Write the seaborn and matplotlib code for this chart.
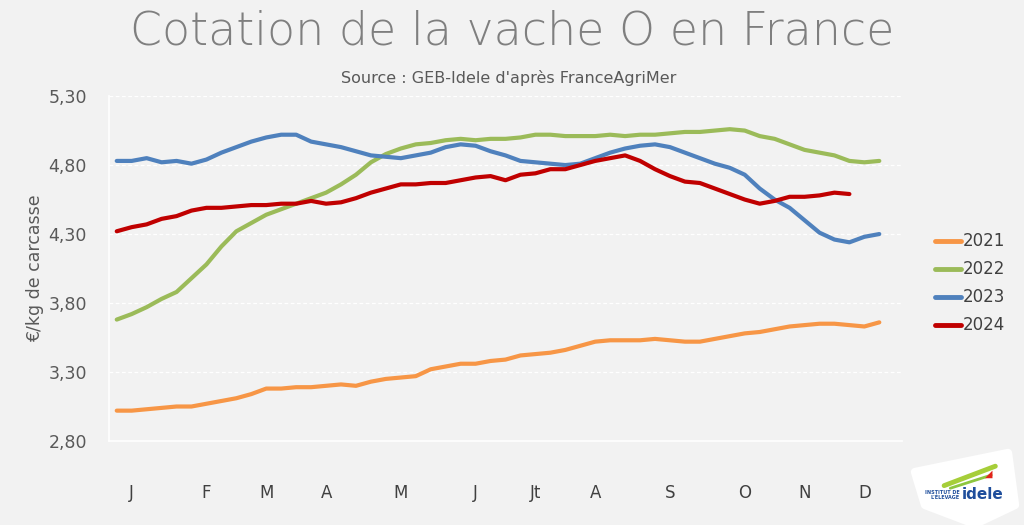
import numpy as np
import pandas as pd
import matplotlib.pyplot as plt
import seaborn as sns
from matplotlib.patches import Polygon
from matplotlib.ticker import FuncFormatter

# weekly prices, EUR/kg carcass
prix_2021 = [3.02, 3.02, 3.03, 3.04, 3.05, 3.05, 3.07, 3.09, 3.11, 3.14, 3.18, 3.18, 3.19,
             3.19, 3.20, 3.21, 3.20, 3.23, 3.25, 3.26, 3.27, 3.32, 3.34, 3.36, 3.36, 3.38,
             3.39, 3.42, 3.43, 3.44, 3.46, 3.49, 3.52, 3.53, 3.53, 3.53, 3.54, 3.53, 3.52,
             3.52, 3.54, 3.56, 3.58, 3.59, 3.61, 3.63, 3.64, 3.65, 3.65, 3.64, 3.63, 3.66]
prix_2022 = [3.68, 3.72, 3.77, 3.83, 3.88, 3.98, 4.08, 4.21, 4.32, 4.38, 4.44, 4.48, 4.52,
             4.56, 4.60, 4.66, 4.73, 4.82, 4.88, 4.92, 4.95, 4.96, 4.98, 4.99, 4.98, 4.99,
             4.99, 5.00, 5.02, 5.02, 5.01, 5.01, 5.01, 5.02, 5.01, 5.02, 5.02, 5.03, 5.04,
             5.04, 5.05, 5.06, 5.05, 5.01, 4.99, 4.95, 4.91, 4.89, 4.87, 4.83, 4.82, 4.83]
prix_2023 = [4.83, 4.83, 4.85, 4.82, 4.83, 4.81, 4.84, 4.89, 4.93, 4.97, 5.00, 5.02, 5.02,
             4.97, 4.95, 4.93, 4.90, 4.87, 4.86, 4.85, 4.87, 4.89, 4.93, 4.95, 4.94, 4.90,
             4.87, 4.83, 4.82, 4.81, 4.80, 4.81, 4.85, 4.89, 4.92, 4.94, 4.95, 4.93, 4.89,
             4.85, 4.81, 4.78, 4.73, 4.63, 4.55, 4.49, 4.40, 4.31, 4.26, 4.24, 4.28, 4.30]
prix_2024 = [4.32, 4.35, 4.37, 4.41, 4.43, 4.47, 4.49, 4.49, 4.50, 4.51, 4.51, 4.52, 4.52,
             4.54, 4.52, 4.53, 4.56, 4.60, 4.63, 4.66, 4.66, 4.67, 4.67, 4.69, 4.71, 4.72,
             4.69, 4.73, 4.74, 4.77, 4.77, 4.80, 4.83, 4.85, 4.87, 4.83, 4.77, 4.72, 4.68,
             4.67, 4.63, 4.59, 4.55, 4.52, 4.54, 4.57, 4.57, 4.58, 4.60, 4.59]

annees = ['2021', '2022', '2023', '2024']
couleurs = ['#f79646', '#9bbb59', '#4f81bd', '#c00000']
mois = ['J', 'F', 'M', 'A', 'M', 'J', 'Jt', 'A', 'S', 'O', 'N', 'D']
mois_sem = [1, 6, 10, 14, 19, 24, 28, 32, 37, 42, 46, 50]
yticks = [2.80, 3.30, 3.80, 4.30, 4.80, 5.30]
n_sem = 53

frames = []
for an, vals in zip(annees, [prix_2021, prix_2022, prix_2023, prix_2024]):
    frames.append(pd.DataFrame({'semaine': np.arange(len(vals)), 'prix': vals, 'annee': an}))
df = pd.concat(frames, ignore_index=True)

sns.set_style('white')
bg = '#f2f2f2'
fig = plt.figure(figsize=(10.24, 5.25), dpi=100, facecolor=bg)
ax = fig.add_axes([0.1067, 0.16, 0.7739, 0.657], facecolor=bg)

sns.lineplot(data=df, x='semaine', y='prix', hue='annee', palette=couleurs,
             linewidth=3, ax=ax, solid_capstyle='round')

ax.set_xlim(-0.5, n_sem - 0.5)
ax.set_ylim(2.80, 5.30)
ax.set_yticks(yticks)
ax.yaxis.set_major_formatter(FuncFormatter(lambda v, p: f'{v:.2f}'.replace('.', ',')))
ax.tick_params(axis='y', length=0, pad=16, labelsize=12.5, labelcolor='#595959')
ax.grid(axis='y', color='white', linestyle=(0, (3, 2)), linewidth=0.9)
ax.set_axisbelow(True)

ax.set_xticks(mois_sem)
ax.set_xticklabels(mois)
ax.set_xticks(np.arange(-0.5, n_sem, 1), minor=True)
ax.tick_params(axis='x', which='major', length=0, pad=31, labelsize=12, labelcolor='#404040')
ax.tick_params(axis='x', which='minor', length=6, width=1, color='white', direction='out')

for s in ['top', 'right']:
    ax.spines[s].set_visible(False)
for s in ['left', 'bottom']:
    ax.spines[s].set_color('white')
    ax.spines[s].set_linewidth(1.2)

ax.set_xlabel('')
ax.set_ylabel('€/kg de carcasse', fontsize=12.5, color='#595959', labelpad=3)

leg = ax.legend(loc='center left', bbox_to_anchor=(0.898, 0.46), bbox_transform=fig.transFigure,
                frameon=False, fontsize=12, handlelength=1.6, handletextpad=0.1,
                labelspacing=0.6, labelcolor='#404040')
for h in leg.legend_handles:
    h.set_linewidth(3.5)

fig.text(0.5, 0.94, 'Cotation de la vache O en France', ha='center', va='center',
         fontsize=33, color='#7f7f7f', family='DejaVu Sans', fontweight=200)
fig.text(0.497, 0.852, "Source : GEB-Idele d'après FranceAgriMer", ha='center', va='center',
         fontsize=11.5, color='#595959')

# logo idele (approximation)
pts = [[915, 472], [1008, 453], [1015, 505], [975, 524], [925, 505]]
logo = Polygon([[x / 1024, 1 - y / 525] for x, y in pts], closed=True,
               facecolor='white', edgecolor='white', linewidth=6, joinstyle='round',
               transform=fig.transFigure)
fig.patches.append(logo)
fig.lines.append(plt.Line2D([0.922, 0.972], [0.075, 0.112], transform=fig.transFigure,
                            color='#a6ce39', linewidth=3.5, solid_capstyle='round'))
fig.lines.append(plt.Line2D([0.928, 0.968], [0.07, 0.095], transform=fig.transFigure,
                            color='#8dc63f', linewidth=2, solid_capstyle='round'))
fig.text(0.962, 0.098, '◢', fontsize=7, color='#e2231a', ha='left', va='center')
fig.text(0.939, 0.058, 'idele', fontsize=11, fontweight='bold', color='#1f4e9c',
         ha='left', va='center')
fig.text(0.937, 0.058, "INSTITUT DE\nL'ÉLEVAGE", fontsize=3.5, fontweight='bold',
         color='#1f4e9c', ha='right', va='center', linespacing=1)

fig.savefig('out.png', dpi=100, facecolor=bg)
